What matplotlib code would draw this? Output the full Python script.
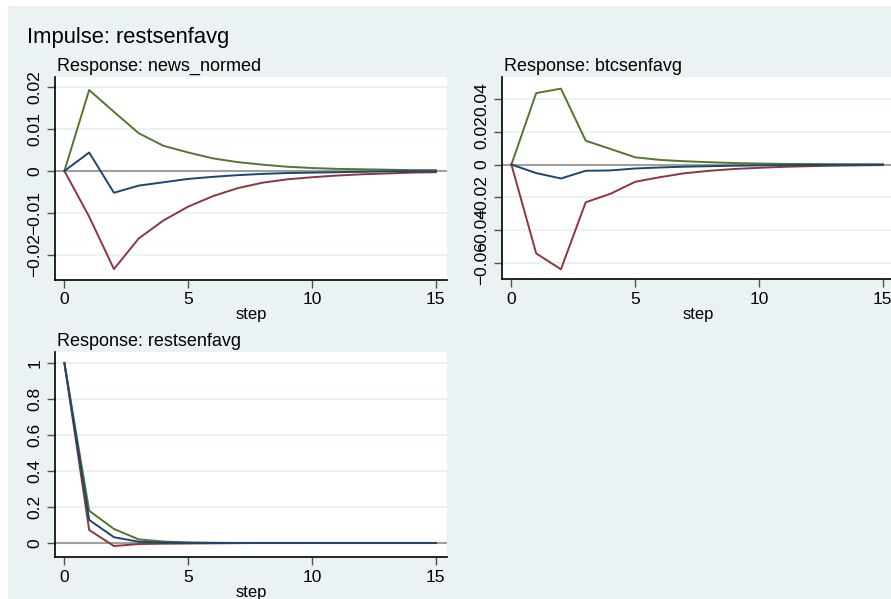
import numpy as np
import matplotlib.pyplot as plt
from matplotlib.patches import Rectangle

plt.rcParams['font.family'] = ['Liberation Sans', 'DejaVu Sans']

# --- Datos ---
steps = list(range(16))

# Response: news_normed
news_up = [0, 0.0193, 0.0141, 0.0090, 0.0060, 0.0044, 0.0030, 0.0021, 0.0015,
           0.0010, 0.0007, 0.0005, 0.0004, 0.0003, 0.0002, 0.0002]
news_irf = [0, 0.0044, -0.0052, -0.0035, -0.0027, -0.0019, -0.0014, -0.0010,
            -0.0007, -0.0005, -0.0004, -0.0003, -0.0002, -0.0001, -0.0001, -0.0001]
news_lo = [0, -0.0109, -0.0234, -0.0161, -0.0118, -0.0085, -0.0060, -0.0041,
           -0.0028, -0.0020, -0.0015, -0.0011, -0.0008, -0.0006, -0.0004, -0.0003]

# Response: btcsenfavg
btc_up = [0, 0.0435, 0.0462, 0.0145, 0.0095, 0.0044, 0.0028, 0.0020, 0.0014,
          0.0009, 0.0006, 0.0004, 0.0003, 0.0002, 0.0001, 0.0001]
btc_irf = [0, -0.0052, -0.0085, -0.0038, -0.0036, -0.0024, -0.0018, -0.0013,
           -0.0010, -0.0007, -0.0005, -0.0004, -0.0003, -0.0002, -0.0001, -0.0001]
btc_lo = [0, -0.0541, -0.0638, -0.0230, -0.0178, -0.0105, -0.0077, -0.0053,
          -0.0038, -0.0027, -0.0020, -0.0014, -0.0010, -0.0007, -0.0005, -0.0003]

# Response: restsenfavg
rest_up = [1.0, 0.179, 0.078, 0.020, 0.008, 0.003, 0.001, 0, 0, 0, 0, 0, 0, 0, 0, 0]
rest_irf = [1.0, 0.128, 0.032, 0.007, 0.002, 0.0005, 0, 0, 0, 0, 0, 0, 0, 0, 0, 0]
rest_lo = [1.0, 0.072, -0.017, -0.006, -0.004, -0.003, -0.002, -0.001, 0, 0,
           0, 0, 0, 0, 0, 0]

news_ticks = [-0.02, -0.01, 0, 0.01, 0.02]
btc_ticks = [-0.06, -0.04, -0.02, 0, 0.02, 0.04]
rest_ticks = [0, 0.2, 0.4, 0.6, 0.8, 1]
x_ticks = [0, 5, 10, 15]

# --- Colores estilo Stata s2color ---
BG = '#EAF2F3'
NAVY = '#1A476F'
MAROON = '#90353B'
GREEN = '#55752F'

W, H = 891, 599
fig = plt.figure(figsize=(W / 100, H / 100), dpi=100)
fig.patch.set_facecolor('white')
fig.add_artist(Rectangle((8 / W, 0), 1, 1 - 6 / H, transform=fig.transFigure,
                         facecolor=BG, edgecolor='none', zorder=0))


def panel(rect, up, irf, lo, yticks, ylim, title):
    ax = fig.add_axes(rect)
    ax.set_facecolor('white')
    for yt in yticks:
        ax.axhline(yt, color=BG, lw=1.5, zorder=1)
    ax.axhline(0, color='#A0A0A0', lw=1.5, zorder=2)
    ax.plot(steps, up, color=GREEN, lw=1.4, zorder=3)
    ax.plot(steps, irf, color=NAVY, lw=1.4, zorder=4)
    ax.plot(steps, lo, color=MAROON, lw=1.4, zorder=3)
    ax.set_xlim(-0.38, 15.45)
    ax.set_ylim(*ylim)
    ax.set_xticks(x_ticks)
    ax.set_yticks(yticks)
    ax.set_yticklabels([f'{t:g}'.replace('-', '\u2212') for t in yticks],
                       rotation=90, va='center')
    ax.tick_params(direction='out', length=6, width=1, color='#505050',
                   labelsize=12.5, pad=3)
    for s in ('top', 'right'):
        ax.spines[s].set_visible(False)
    for s in ('left', 'bottom'):
        ax.spines[s].set_color('black')
        ax.spines[s].set_linewidth(1.2)
    ax.set_xlabel('step', fontsize=12, labelpad=0)
    ax.text(0.005, 1.012, title, transform=ax.transAxes, fontsize=13,
            ha='left', va='bottom')
    return ax


panel([55 / W, 1 - 280 / H, 392 / W, 203 / H], news_up, news_irf, news_lo,
      news_ticks, (-0.026, 0.0224), 'Response: news_normed')
panel([502 / W, 1 - 279 / H, 392 / W, 202 / H], btc_up, btc_irf, btc_lo,
      btc_ticks, (-0.0697, 0.0533), 'Response: btcsenfavg')
panel([55 / W, 1 - 557 / H, 392 / W, 205 / H], rest_up, rest_irf, rest_lo,
      rest_ticks, (-0.078, 1.061), 'Response: restsenfavg')

fig.text(27 / W, 1 - 37 / H, 'Impulse: restsenfavg', fontsize=15.8,
         ha='left', va='center')

fig.savefig('out.png', dpi=100)
